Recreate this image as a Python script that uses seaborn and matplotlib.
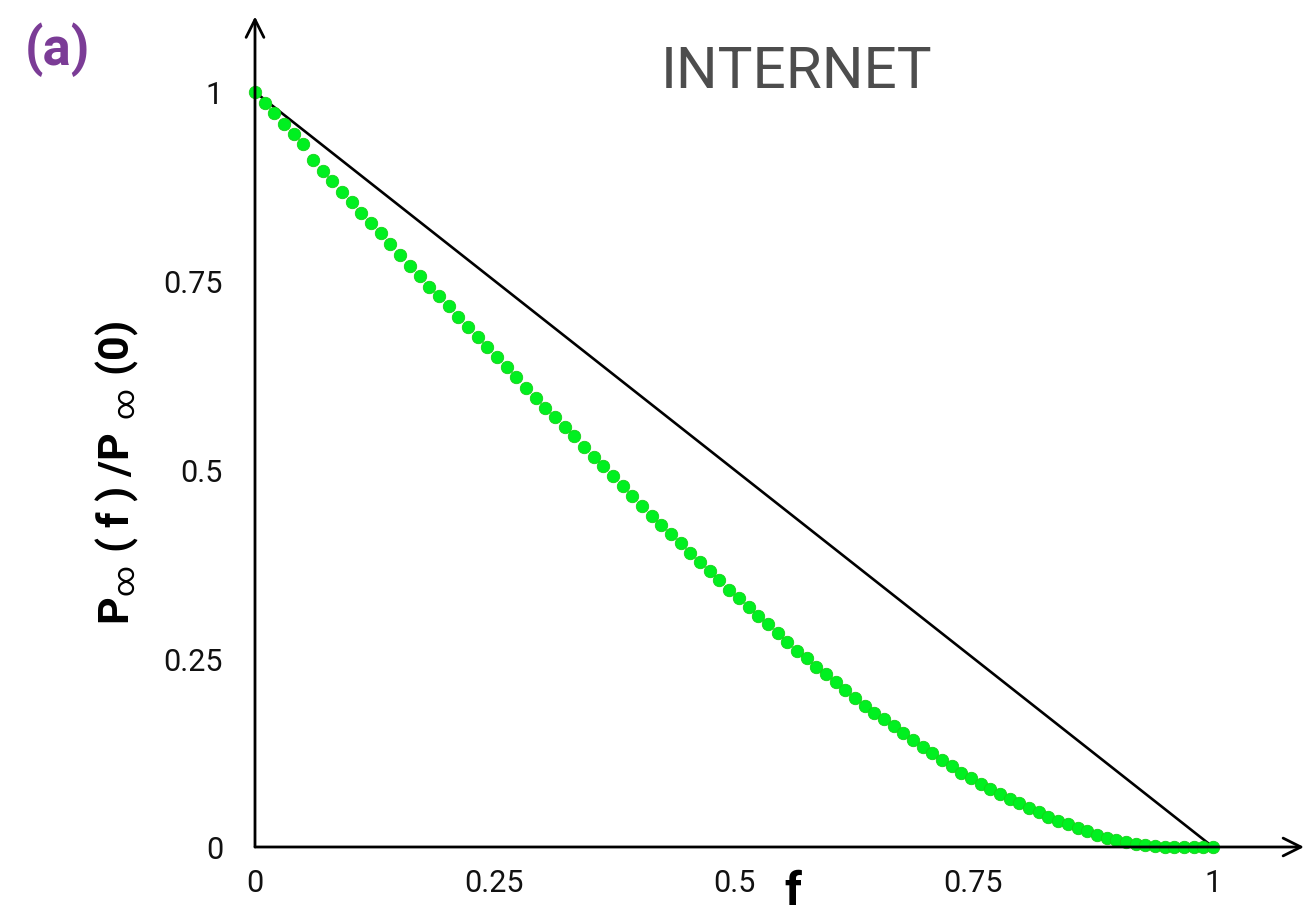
import matplotlib
matplotlib.use("Agg")
import matplotlib.pyplot as plt
import seaborn as sns
import numpy as np
import pandas as pd

# ---- data ----
f_values = [i / 99 for i in range(100)]
p_ratio = [1.000, 0.986, 0.972, 0.958, 0.944, 0.931, 0.910, 0.896, 0.882, 0.868,
           0.854, 0.840, 0.826, 0.813, 0.799, 0.784, 0.770, 0.756, 0.742, 0.730,
           0.716, 0.702, 0.689, 0.675, 0.662, 0.649, 0.636, 0.622, 0.608, 0.595,
           0.582, 0.570, 0.556, 0.544, 0.530, 0.517, 0.504, 0.491, 0.478, 0.465,
           0.452, 0.439, 0.426, 0.414, 0.402, 0.390, 0.378, 0.366, 0.353, 0.341,
           0.330, 0.318, 0.306, 0.295, 0.284, 0.272, 0.260, 0.250, 0.239, 0.229,
           0.219, 0.208, 0.197, 0.187, 0.178, 0.169, 0.160, 0.151, 0.142, 0.133,
           0.124, 0.115, 0.107, 0.098, 0.091, 0.084, 0.077, 0.070, 0.064, 0.058,
           0.051, 0.046, 0.040, 0.035, 0.030, 0.025, 0.021, 0.016, 0.012, 0.009,
           0.006, 0.004, 0.002, 0.001, 0.0005, 0.0, 0.0, 0.0, 0.0, 0.0]
line_f = [0.0, 1.0]
line_p = [1.0, 0.0]
x_ticks = [0, 0.25, 0.5, 0.75, 1]
x_tick_labels = ["0", "0.25", "0.5", "0.75", "1"]
y_ticks = [0, 0.25, 0.5, 0.75, 1]
y_tick_labels = ["0", "0.25", "0.5", "0.75", "1"]
title_text = "INTERNET"
panel_label = "(a)"

sns.set_style("white")
plt.rcParams["font.family"] = ["Roboto", "DejaVu Sans"]
plt.rcParams["mathtext.fontset"] = "custom"
plt.rcParams["mathtext.rm"] = "Roboto"
plt.rcParams["mathtext.bf"] = "Roboto:bold"
plt.rcParams["mathtext.it"] = "Roboto:italic"

W, H = 1306, 912
fig = plt.figure(figsize=(W / 100, H / 100), dpi=100)
ax = fig.add_axes([255 / W, 64 / H, 1049 / W, 830.5 / H])

df_pts = pd.DataFrame({"f": f_values, "p": p_ratio})
df_line = pd.DataFrame({"f": line_f, "p": line_p})

sns.lineplot(data=df_line, x="f", y="p", ax=ax, color="black", lw=1.9, zorder=2)
sns.scatterplot(data=df_pts, x="f", y="p", ax=ax, color="#00f020", s=80,
                edgecolor="#19cf19", linewidth=0.6, zorder=3, clip_on=False)

ax.set_xlim(0, 1.095)
ax.set_ylim(0, 1.1)
for s in ax.spines.values():
    s.set_visible(False)

ax.set_xticks(x_ticks)
ax.set_xticklabels(x_tick_labels)
ax.set_yticks(y_ticks)
ax.set_yticklabels(y_tick_labels)
ax.tick_params(axis="both", direction="in", length=9, width=1.1, color="#888888",
               labelsize=22, labelcolor="#111111")
ax.tick_params(axis="x", pad=15)
ax.tick_params(axis="y", pad=23)

# arrows as axes
arrow_kw = dict(arrowstyle="->", lw=2.0, color="black", mutation_scale=32,
                shrinkA=0, shrinkB=0)
ax.annotate("", xy=(1.0, 0), xytext=(0, 0), xycoords="axes fraction",
            textcoords="axes fraction", arrowprops=arrow_kw, annotation_clip=False)
ax.annotate("", xy=(0, 1.0), xytext=(0, 0), xycoords="axes fraction",
            textcoords="axes fraction", arrowprops=arrow_kw, annotation_clip=False)

ax.set_xlabel("")
ax.set_ylabel(r"$\mathbf{P}_{\infty}\ \mathbf{(}\;\mathbf{f}\;\mathbf{)}\;\mathbf{/P}\ {}_{\infty}\ \mathbf{(0)}$",
              fontsize=31, color="black")
ax.yaxis.set_label_coords(-0.11, 0.452)

fig.text(793 / W, 1 - 870 / H, "f", fontsize=34, fontweight="bold",
         ha="center", va="top", color="black")
fig.text(797 / W, 1 - 73 / H, title_text, fontsize=42, fontweight="normal",
         ha="center", va="center", color="#4d4d4d")
fig.text(57 / W, 1 - 50 / H, panel_label, fontsize=38, fontweight="bold",
         ha="center", va="center", color="#7b3c96")

fig.savefig("out.png", dpi=100)
